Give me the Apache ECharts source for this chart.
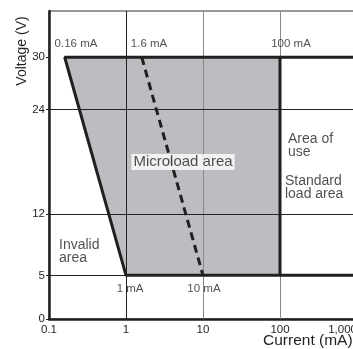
<!DOCTYPE html>
<html>
<head>
<meta charset="utf-8">
<script src="https://cdn.jsdelivr.net/npm/echarts@6/dist/echarts.min.js"></script>
<style>
  html, body { margin: 0; padding: 0; background: #fff; }
  #chart { width: 353px; height: 349px; }
</style>
</head>
<body>
<div id="chart"></div>
<script>
// usable area polygon (current mA, voltage V)
var areaX = [0.16, 100, 100, 1]
var areaY = [30, 30, 5, 5]
// outer boundary: top line, left slope, bottom line
var edgeX = [1000, 0.16, 1, 1000]
var edgeY = [30, 30, 5, 5]
// standard load limit
var limitX = [100, 100]
var limitY = [30, 5]
// microload limit (dashed)
var microX = [1.6, 10]
var microY = [30, 5]
var yTicks = [0, 5, 12, 24, 30]
var xTickLabels = ['0.1', '1', '10', '100', '1,000']
var vGrid = [1, 10, 100]
var hGrid = [5, 12, 24]
// annotation texts: [current, voltage, text, align]
var notes = [
  [0.224, 31.5, '0.16 mA', 'center'],
  [1.99, 31.5, '1.6 mA', 'center'],
  [139, 31.5, '100 mA', 'center'],
  [1.13, 3.5, '1 mA', 'center'],
  [10.3, 3.5, '10 mA', 'center'],
  [127, 19.9, 'Area of\nuse', 'left'],
  [116, 15.1, 'Standard\nload area', 'left'],
  [0.135, 7.7, 'Invalid\narea', 'left']
]
var boxNote = [5.5, 18.0, 'Microload area']

function pairs(xs, ys) {
  return xs.map(function (x, i) { return [x, ys[i]] })
}

var FONT = 'Liberation Sans'
var INK = '#231f20'

var myChart = echarts.init(document.getElementById('chart'))
var option = {
  animation: false,
  grid: {
    left: 49, right: -4, top: 11, bottom: 30,
    outerBoundsMode: 'none', containLabel: false,
    show: true, borderColor: '#333', borderWidth: 1, backgroundColor: '#fff'
  },
  xAxis: {
    type: 'log', logBase: 10, min: 0.1, max: 1000,
    axisLine: { lineStyle: { color: INK, width: 2.5 } },
    axisTick: { show: false },
    splitLine: { show: false },
    minorTick: { show: false },
    axisLabel: {
      color: INK, fontFamily: FONT, fontSize: 11.5, margin: 5,
      alignMaxLabel: 'right',
      formatter: function (v) {
        return xTickLabels[Math.round(Math.log10(v)) + 1]
      }
    }
  },
  yAxis: {
    type: 'value', min: 0, max: 35.3,
    axisLine: { show: true, lineStyle: { color: INK, width: 2.5 } },
    axisTick: { show: true, customValues: yTicks, length: 3, lineStyle: { color: INK } },
    splitLine: { show: false },
    axisLabel: { color: INK, fontFamily: FONT, fontSize: 11.5, margin: 4, customValues: yTicks }
  },
  graphic: [
    {
      type: 'text', x: 22, y: 51, rotation: Math.PI / 2,
      style: { text: 'Voltage (V)', fill: INK, font: '14px "Liberation Sans"', textAlign: 'center', textVerticalAlign: 'middle' }
    },
    {
      type: 'text', x: 263, y: 341,
      style: { text: 'Current (mA)', fill: INK, font: '15.5px "Liberation Sans"', textAlign: 'left', textVerticalAlign: 'middle' }
    }
  ],
  series: [
    {
      type: 'custom', z: 1, silent: true,
      data: pairs(areaX, areaY),
      renderItem: function (params, api) {
        if (params.dataIndex !== 0) return
        var pts = areaX.map(function (x, i) { return api.coord([x, areaY[i]]) })
        return { type: 'polygon', shape: { points: pts }, style: { fill: '#bcbdc1' } }
      },
      markLine: {
        silent: true, symbol: ['none', 'none'], label: { show: false }, z: 3,
        lineStyle: { type: 'solid', width: 1, color: '#222' },
        data: vGrid.map(function (v, i) {
          return { xAxis: v, lineStyle: { color: i === 0 ? '#222' : '#888', width: 1, type: 'solid' } }
        }).concat(hGrid.map(function (v) {
          return { yAxis: v, lineStyle: { color: '#222', width: 1, type: 'solid' } }
        }))
      }
    },
    {
      type: 'line', z: 6, silent: true, showSymbol: false, symbol: 'none',
      data: pairs(edgeX, edgeY),
      lineStyle: { color: INK, width: 3 }
    },
    {
      type: 'line', z: 6, silent: true, showSymbol: false, symbol: 'none',
      data: pairs(limitX, limitY),
      lineStyle: { color: INK, width: 3 }
    },
    {
      type: 'line', z: 6, silent: true, showSymbol: false, symbol: 'none',
      data: pairs(microX, microY),
      lineStyle: { color: INK, width: 3, type: [8, 5] }
    },
    {
      type: 'scatter', z: 8, silent: true, symbolSize: 0,
      data: notes.map(function (n) {
        return {
          value: [n[0], n[1]],
          label: { show: true, position: 'inside', formatter: n[2], align: n[3],
            color: INK, fontFamily: FONT, fontSize: n[3] === 'left' ? 14 : 11.5, lineHeight: 13 }
        }
      }).concat([{
        value: [boxNote[0], boxNote[1]],
        label: { show: true, position: 'inside', formatter: boxNote[2], color: INK,
          fontFamily: FONT, fontSize: 15, backgroundColor: '#fff', padding: [1, 2, 0, 2] }
      }])
    }
  ]
}
myChart.setOption(option)
</script>
</body>
</html>
